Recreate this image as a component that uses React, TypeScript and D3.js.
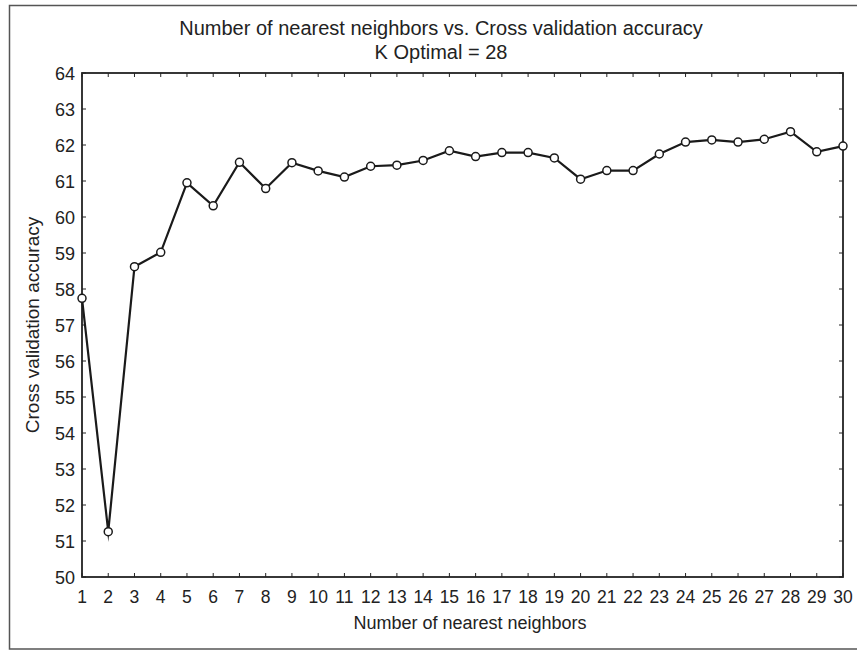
import React from "react";
import * as d3 from "d3";

// Number of neighbours (k) and the matching cross-validation accuracy (%)
const kValues: number[] = [
  1, 2, 3, 4, 5, 6, 7, 8, 9, 10, 11, 12, 13, 14, 15,
  16, 17, 18, 19, 20, 21, 22, 23, 24, 25, 26, 27, 28, 29, 30,
];
const accuracy: number[] = [
  57.74, 51.26, 58.62, 59.02, 60.95, 60.31, 61.52, 60.79, 61.51, 61.28,
  61.11, 61.41, 61.44, 61.57, 61.84, 61.68, 61.79, 61.79, 61.64, 61.05,
  61.29, 61.29, 61.75, 62.08, 62.14, 62.08, 62.16, 62.37, 61.81, 61.97,
];
const yTicks: number[] = [50, 51, 52, 53, 54, 55, 56, 57, 58, 59, 60, 61, 62, 63, 64];

const titleLines: string[] = [
  "Number of nearest neighbors vs. Cross validation accuracy",
  "K Optimal = 28",
];
const xLabel = "Number of nearest neighbors";
const yLabel = "Cross validation accuracy";

const W = 857;
const H = 651;
const left = 82;
const right = 843;
const top = 73;
const bottom = 577;
const font = "'Liberation Sans', Arial, sans-serif";

export default function App() {
  const x = d3.scaleLinear().domain([1, 30]).range([left, right]);
  const y = d3.scaleLinear().domain([50, 64]).range([bottom, top]);
  const line = d3
    .line<number>()
    .x((_, i) => x(kValues[i]))
    .y((d) => y(d));
  const tick = 4;

  return (
    <svg
      width={W}
      height={H}
      style={{ position: "absolute", left: 0, top: 0, background: "#fff" }}
      fontFamily={font}
    >
      {/* figure frame */}
      <rect x={9.5} y={5.5} width={860} height={643.5} fill="none" stroke="#555" strokeWidth={1.5} />

      {/* title */}
      {titleLines.map((t, i) => (
        <text key={i} x={441} y={35 + i * 24} textAnchor="middle" fontSize={20} fill="#222">
          {t}
        </text>
      ))}

      {/* ticks on all four sides, pointing inward */}
      {kValues.map((k) => (
        <g key={"xt" + k} stroke="#222" strokeWidth={1}>
          <line x1={x(k)} x2={x(k)} y1={bottom} y2={bottom - tick} />
          <line x1={x(k)} x2={x(k)} y1={top} y2={top + tick} />
        </g>
      ))}
      {yTicks.map((v) => (
        <g key={"yt" + v} stroke="#222" strokeWidth={1}>
          <line x1={left} x2={left + tick} y1={y(v)} y2={y(v)} />
          <line x1={right} x2={right - tick} y1={y(v)} y2={y(v)} />
        </g>
      ))}

      {/* tick labels */}
      {kValues.map((k) => (
        <text key={"xl" + k} x={x(k)} y={603} textAnchor="middle" fontSize={17.5} fill="#222">
          {k}
        </text>
      ))}
      {yTicks.map((v) => (
        <text key={"yl" + v} x={75} y={y(v) + 6.5} textAnchor="end" fontSize={18} fill="#222">
          {v}
        </text>
      ))}

      {/* axis titles */}
      <text x={470} y={629} textAnchor="middle" fontSize={18} fill="#222">
        {xLabel}
      </text>
      <text
        transform={`translate(39,${(top + bottom) / 2}) rotate(-90)`}
        textAnchor="middle"
        fontSize={19}
        fill="#222"
      >
        {yLabel}
      </text>

      {/* plot box */}
      <rect
        x={left}
        y={top}
        width={right - left}
        height={bottom - top}
        fill="none"
        stroke="#222"
        strokeWidth={1.8}
      />

      {/* accuracy curve */}
      <path
        d={line(accuracy) || ""}
        fill="none"
        stroke="#1a1a1a"
        strokeWidth={2.2}
        strokeLinejoin="miter"
        strokeMiterlimit={12}
      />
      {accuracy.map((v, i) => (
        <circle
          key={"pt" + i}
          cx={x(kValues[i])}
          cy={y(v)}
          r={4}
          fill="#fff"
          stroke="#1a1a1a"
          strokeWidth={1.5}
        />
      ))}
    </svg>
  );
}
